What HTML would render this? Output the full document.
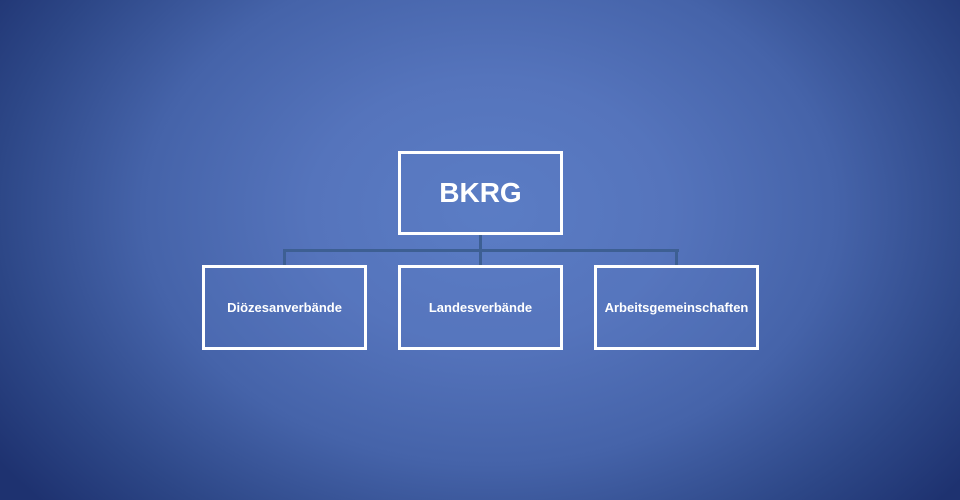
<!DOCTYPE html>
<html><head><meta charset="utf-8"><style>
html,body{margin:0;padding:0}
body{width:960px;height:500px;overflow:hidden;position:relative;
background:radial-gradient(ellipse 600px 440px at 490px 210px,#5b7dc5 0%,#5574bc 30%,#4563a9 58%,#2d4787 82%,#1e3270 100%);
font-family:"Liberation Sans","DejaVu Sans",sans-serif}
.b{position:absolute;box-sizing:border-box;border:3px solid #fff;display:flex;align-items:center;justify-content:center;color:#fff;font-weight:bold;background:rgba(90,125,195,0.25)}
.s{font-size:13px}
.l{position:absolute;background:#3d5f93}
</style></head><body>
<div class="l" style="left:479px;top:233px;width:3px;height:34px"></div>
<div class="l" style="left:283px;top:249px;width:396px;height:3px"></div>
<div class="l" style="left:283px;top:249px;width:3px;height:18px"></div>
<div class="l" style="left:675px;top:249px;width:3px;height:18px"></div>
<div class="b" style="left:398px;top:151px;width:165px;height:84px;font-size:28px">BKRG</div>
<div class="b s" style="left:202px;top:265px;width:165px;height:85px">Diözesanverbände</div>
<div class="b s" style="left:398px;top:265px;width:165px;height:85px">Landesverbände</div>
<div class="b s" style="left:594px;top:265px;width:165px;height:85px">Arbeitsgemeinschaften</div>
</body></html>
